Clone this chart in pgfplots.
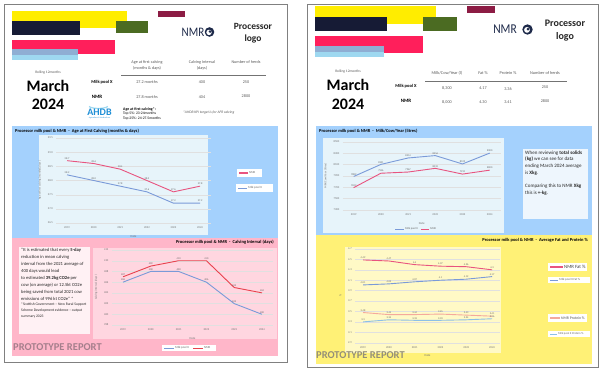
\documentclass[border=0pt]{standalone}
\usepackage{pgfplots}
\pgfplotsset{compat=1.18}
\usepackage{fontspec}
\setmainfont{Carlito}
\definecolor{cyel}{HTML}{FFED00}
\definecolor{cnavy}{HTML}{161B35}
\definecolor{cgreen}{HTML}{4B6B22}
\definecolor{cmaroon}{HTML}{8C1C44}
\definecolor{cred}{HTML}{FF1F5B}
\definecolor{cgblue}{HTML}{8FAED3}
\definecolor{clblue}{HTML}{9ED8F0}
\definecolor{pblue}{HTML}{A4D1FD}
\definecolor{plblue}{HTML}{E7F4FA}
\definecolor{ppink}{HTML}{FFB6C9}
\definecolor{plpink}{HTML}{FFD6E0}
\definecolor{tpink}{HTML}{FFF1F4}
\definecolor{tblue}{HTML}{EEF6FD}
\definecolor{pyel}{HTML}{FFF176}
\definecolor{plyel}{HTML}{FFF9C6}
\definecolor{nmrpink}{HTML}{E8547F}
\definecolor{poolblue}{HTML}{7A9AD8}
\definecolor{nmrred}{HTML}{E8424E}
\definecolor{nmrprot}{HTML}{F5A99C}
\definecolor{poolprot}{HTML}{8CC0E6}
\definecolor{logonavy}{HTML}{1E2A4A}
\definecolor{ahdb}{HTML}{1F8FD6}
\definecolor{protol}{HTML}{A57F8C}
\definecolor{protor}{HTML}{948F78}
\definecolor{hdr}{HTML}{595959}
\newcommand\fs[2]{\fontsize{#1}{#2}\selectfont}
\pgfplotsset{
  rep/.style={
    scale only axis, clip=false, anchor=south west,
    axis line style={draw=none}, major tick length=0pt,
    ymajorgrids, grid style={black!12, line width=0.3pt},
    xmin=-0.4, xmax=5.4,
    xtick={0,1,2,3,4,5}, xticklabels={2019,2020,2021,2022,2023,2024},
    tick label style={font=\fs{2.8}{3}, text=black!55},
    /pgf/number format/assume math mode=true,
    xlabel={Date}, xlabel style={font=\fs{3}{3}, text=black!55},
    ylabel style={font=\fs{2.8}{3}, text=black!55},
    every axis plot/.append style={line width=0.9pt, no markers},
    nodes near coords,
    every node near coord/.append style={font=\fs{2.6}{3}, text=black!60, inner sep=0.8pt},
  }
}
\begin{document}
\begin{tikzpicture}
\begin{scope}[x=1pt,y=-1pt]
\fill[white] (0,0) rectangle (602,369);
\useasboundingbox (0,0) rectangle (602,369);
% pages
\draw[black!50, line width=0.8pt, fill=white] (4,4) rectangle (287,362);
\draw[black!50, line width=0.8pt, fill=white] (307,4) rectangle (598,367);
% ---------- left header bars
\fill[cyel] (12,11) rectangle (127,28);
\fill[cnavy] (12,21) rectangle (80,35);
\fill[cgreen] (116,21) rectangle (148,33);
\fill[cmaroon] (158,11) rectangle (185,17);
\fill[cred] (12,40) rectangle (115,54);
\fill[cgblue] (12,49) rectangle (78,55);
\fill[clblue] (12,55) rectangle (78,60);
% ---------- right header bars
\fill[cyel] (315,6) rectangle (436,24);
\fill[cnavy] (315,17) rectangle (387,31);
\fill[cgreen] (423,17) rectangle (457,31);
\fill[cmaroon] (467,6) rectangle (495,13);
\fill[cred] (315,36) rectangle (423,53);
\fill[cgblue] (315,46) rectangle (384,52);
\fill[clblue] (315,52) rectangle (384,57);
% ---------- NMR logos
\node[font=\fs{13}{13}, text=logonavy, xscale=0.85] at (193,32) {NMR};
\fill[logonavy] (209.5,32) circle (4.8);
\fill[white] (209,32.4) circle (2.7);
\fill[logonavy] (210,31.6) circle (1.4);
\node[font=\fs{13.5}{13.5}, text=logonavy, xscale=0.85] at (505,29.5) {NMR};
\fill[logonavy] (527.5,29.5) circle (5.2);
\fill[white] (527,29.9) circle (2.9);
\fill[logonavy] (528,29.1) circle (1.5);
\node[font=\bfseries\fs{9.5}{12}, align=center, text=black!85] at (253,33) {Processor\\logo};
\node[font=\bfseries\fs{10}{13}, align=center, text=black!85] at (565,30.5) {Processor\\logo};
% ---------- left header text
\node[font=\fs{3.6}{4}, text=hdr] at (48,73) {Rolling 12months};
\node[font=\bfseries\fs{16}{16}] at (48,86) {March};
\node[font=\bfseries\fs{16}{16}] at (48,104) {2024};
\node[font=\bfseries\fs{4.5}{5}] at (102,82) {Milk pool X};
\node[font=\bfseries\fs{5}{5}] at (97,97) {NMR};
\node[font=\fs{4.2}{6}, text=hdr, align=center] at (147,65) {Age at first calving\\(months \& days)};
\node[font=\fs{4.2}{6}, text=hdr, align=center] at (202,65) {Calving Interval\\(days)};
\node[font=\fs{4.2}{6}, text=hdr] at (246,62) {Number of herds};
\draw[black!55, line width=0.8pt] (121,75) -- (266,75);
\node[font=\fs{4.2}{5}, text=hdr] at (147,82) {27.2 months};
\node[font=\fs{4.2}{5}, text=hdr] at (202,82) {400};
\node[font=\fs{4.2}{5}, text=hdr] at (246,82) {250};
\node[font=\fs{4.2}{5}, text=hdr] at (147,97) {27.8 months};
\node[font=\fs{4.2}{5}, text=hdr] at (202,97) {404};
\node[font=\fs{4.2}{5}, text=hdr] at (246,96.5) {2800};
\draw[clblue, line width=1.2pt] (89,106.5) arc (160:20:10 and 3);
\node[font=\bfseries\fs{10}{10}, text=ahdb] at (99.5,112) {AHDB};
\node[font=\fs{2}{2}, text=ahdb] at (99.5,117.5) {Agriculture \& Horticulture};
\node[font=\bfseries\fs{3.9}{4}, anchor=west, inner sep=0pt] at (123,109) {Age at first calving*:};
\node[font=\fs{3.7}{4}, anchor=west, inner sep=0pt] at (123,114) {Top 5\%: 23-24months};
\node[font=\fs{3.7}{4}, anchor=west, inner sep=0pt] at (123,119) {Top 25\%: 24-27.5months};
\node[font=\itshape\fs{3.6}{4}, anchor=west, inner sep=0pt, text=hdr] at (183,113) {*AHDB KPI target is for AFR calving};
% ---------- right header text
\node[font=\fs{3.6}{4}, text=hdr] at (348,72) {Rolling 12months};
\node[font=\bfseries\fs{16}{16}] at (348,85) {March};
\node[font=\bfseries\fs{16}{16}] at (348,104) {2024};
\node[font=\bfseries\fs{4.5}{5}] at (406,86) {Milk pool X};
\node[font=\bfseries\fs{5}{5}] at (406,100.5) {NMR};
\node[font=\fs{4.3}{5}, text=hdr] at (447,73) {Milk/Cow/Year (l)};
\node[font=\fs{4.3}{5}, text=hdr] at (483,73) {Fat \%};
\node[font=\fs{4.3}{5}, text=hdr] at (508,73) {Protein \%};
\node[font=\fs{4.3}{5}, text=hdr] at (545,73) {Number of herds};
\draw[black!55, line width=0.8pt] (425,81) -- (567,81);
\node[font=\fs{4.2}{5}, text=hdr] at (447,88) {8,300};
\node[font=\fs{4.2}{5}, text=hdr] at (483,88) {4.17};
\node[font=\fs{4.2}{5}, text=hdr] at (508,89) {3.36};
\node[font=\fs{4.2}{5}, text=hdr] at (545,87) {250};
\node[font=\fs{4.2}{5}, text=hdr] at (447,102) {8,000};
\node[font=\fs{4.2}{5}, text=hdr] at (483,102) {4.30};
\node[font=\fs{4.2}{5}, text=hdr] at (508,102) {3.41};
\node[font=\fs{4.2}{5}, text=hdr] at (545,101.5) {2800};
% ---------- panels
\fill[pblue] (12,126) rectangle (278,238);
\node[font=\bfseries\fs{4.5}{5}, anchor=west, inner sep=0pt] at (15,131) {Processor milk pool \& NMR\ \ -\ \ Age at First Calving (months \& days)};
\fill[plblue] (39,135) rectangle (208,235);
\fill[ppink] (12,238) rectangle (278,356);
\node[font=\bfseries\fs{4.5}{5}, anchor=east, inner sep=0pt] at (274,242) {Processor milk pool \& NMR\ \ -\ \ Calving Interval (days)};
\fill[tpink] (19,247) rectangle (90,334);
\fill[plpink] (93,248) rectangle (277,339);
\node[font=\bfseries\fs{10.5}{11}, anchor=west, inner sep=0pt, text=protol] at (13,347) {PROTOTYPE REPORT};
\node[anchor=north west, align=left, font=\fs{4.6}{7}, inner sep=0pt, text=black!85] at (21,247.8) {``It is estimated that every \textbf{5-day}\\reduction in mean calving\\interval from the 2021 average of\\400 days would lead\\to estimated \textbf{39.2kg CO2e} per\\cow (on average) or 12.5kt CO2e\\being saved from total 2021 cow\\emissions of 996 kt CO2e'' *};
\node[anchor=north west, align=left, font=\fs{3.7}{6}, inner sep=0pt, text=black!85] at (21,303) {*Scottish Government -- New Rural Support\\Scheme Development evidence -- output\\summary 2023};
\fill[pblue] (316,126) rectangle (592,235);
\node[font=\bfseries\fs{4.5}{5}, anchor=west, inner sep=0pt] at (319,131) {Processor milk pool \& NMR\ \ -\ \ Milk/Cow/Year (litres)};
\fill[plblue] (323,138) rectangle (504,233);
\fill[tblue] (523,149) rectangle (588,219);
\node[anchor=north west, align=left, font=\fs{5}{6.7}, inner sep=0pt, text=black!85] at (525,150.5) {When reviewing \textbf{total solids}\\\textbf{(kg)} we can see for data\\ending March 2024 average\\is \textbf{Xkg}.\\[6.7pt]Comparing this to NMR \textbf{Xkg}\\this is \textbf{+-kg}.};
\fill[pyel] (316,235) rectangle (592,364);
\node[font=\bfseries\fs{4.5}{5}, anchor=east, inner sep=0pt] at (588,240) {Processor milk pool \& NMR\ \ -\ \ Average Fat and Protein \%};
\fill[plyel] (345,247) rectangle (501,353);
\node[font=\bfseries\fs{10.5}{11}, anchor=west, inner sep=0pt, text=protor] at (316,355) {PROTOTYPE REPORT};
\end{scope}

% ---------- Age at first calving
\begin{axis}[rep, at={(56.4pt,-223pt)}, width=154.3pt, height=85pt,
  ymin=26.5, ymax=29.5, ytick={26.5,27,27.5,28,28.5,29,29.5},
  yticklabel={\pgfmathprintnumber[fixed,fixed zerofill,precision=1,assume math mode=true]{\tick}},
  nodes near coords={\pgfmathprintnumber[fixed,fixed zerofill,precision=1,assume math mode=true]{\pgfplotspointmeta}},
  ylabel={Age at first calving (months\&days)}]
\addplot[color=nmrpink] coordinates {(0,28.7)(1,28.6)(2,28.4)(3,28.0)(4,27.6)(5,27.8)};
\addplot[color=poolblue] coordinates {(0,28.2)(1,28.0)(2,27.8)(3,27.6)(4,27.2)(5,27.2)};
\end{axis}

% ---------- Calving interval
\begin{axis}[rep, at={(111.9pt,-325pt)}, width=161.2pt, height=75pt,
  ymin=398, ymax=412, ytick={398,400,402,404,406,408,410,412},
  ylabel={Calving interval (days)}]
\addplot[color=poolblue] coordinates {(0,406)(1,408)(2,408)(3,406)(4,402)(5,400)};
\addplot[color=nmrred] coordinates {(0,407)(1,409)(2,410)(3,410)(4,405)(5,404)};
\end{axis}

% ---------- Milk/Cow/Year
\begin{axis}[rep, at={(342.8pt,-210pt)}, width=157.8pt, height=68.3pt,
  ymin=7300, ymax=8500, ytick={7300,7500,7700,7900,8100,8300,8500},
  /pgf/number format/1000 sep={},
  ylabel={Milk/Cow/Year (litres)}]
\addplot[color=poolblue] coordinates {(0,7889)(1,8101)(2,8214)(3,8256)(4,8109)(5,8300)};
\addplot[color=nmrpink] coordinates {(0,7693)(1,7946)(2,7967)(3,8032)(4,7931)(5,8000)};
\end{axis}

% ---------- Fat and protein
\begin{axis}[rep, at={(355.3pt,-342.7pt)}, width=144.5pt, height=93.7pt,
  xmin=-0.3, xmax=5.3,
  ymin=2.9, ymax=4.7, ytick={2.9,3.1,3.3,3.5,3.7,3.9,4.1,4.3,4.5,4.7},
  yticklabel={\pgfmathprintnumber[fixed,fixed zerofill,precision=1,assume math mode=true]{\tick}},
  ylabel={\%}]
\addplot[color=nmrpink] coordinates {(0,4.49)(1,4.47)(2,4.40)(3,4.37)(4,4.36)(5,4.30)};
\addplot[color=poolblue] coordinates {(0,4.01)(1,4.03)(2,4.07)(3,4.10)(4,4.12)(5,4.17)};
\addplot[color=nmrprot] coordinates {(0,3.48)(1,3.44)(2,3.44)(3,3.45)(4,3.43)(5,3.41)};
\addplot[color=poolprot] coordinates {(0,3.30)(1,3.34)(2,3.33)(3,3.33)(4,3.34)(5,3.36)};
\end{axis}

% ---------- legends
\begin{scope}[x=1pt,y=-1pt]
\fill[white] (237,169) rectangle (262,177);
\draw[nmrpink, line width=1.4pt] (239,173) -- (248,173);
\node[font=\fs{3}{3}, text=black!60, anchor=west, inner sep=0.5pt] at (248.5,173) {NMR};
\fill[white] (236,184) rectangle (273,192);
\draw[poolblue, line width=1pt] (238,188) -- (247,188);
\node[font=\fs{3}{3}, text=black!60, anchor=west, inner sep=0.5pt] at (247.5,188) {Milk pool X};
\fill[white] (162,345) rectangle (216,351);
\draw[poolblue, line width=1pt] (164,348) -- (174,348);
\node[font=\fs{3}{3}, text=black!60, anchor=west, inner sep=0.5pt] at (174.5,348) {Milk pool X};
\draw[nmrred, line width=1pt] (193,348) -- (203,348);
\node[font=\fs{3}{3}, text=black!60, anchor=west, inner sep=0.5pt] at (203.5,348) {NMR};
\draw[poolblue, line width=0.8pt] (395,229) -- (404,229);
\node[font=\fs{2.8}{3}, text=black!60, anchor=west, inner sep=0.5pt] at (404.5,229) {Milk pool X};
\draw[nmrpink, line width=0.8pt] (421,229) -- (429,229);
\node[font=\fs{2.8}{3}, text=black!60, anchor=west, inner sep=0.5pt] at (429.5,229) {NMR};
\fill[white] (548,263) rectangle (587,271);
\draw[nmrpink, line width=1.8pt] (550,267) -- (563,267);
\node[font=\fs{4.8}{5}, text=black!75, anchor=west, inner sep=0.5pt] at (563.5,267) {NMR Fat \%};
\fill[white] (548,277) rectangle (590,283);
\draw[poolblue, line width=0.9pt] (550,280) -- (558,280);
\node[font=\fs{3}{3}, text=black!60, anchor=west, inner sep=0.5pt] at (558.5,280) {Milk pool X Fat \%};
\fill[white] (548,314) rectangle (587,322);
\draw[nmrprot, line width=1.2pt] (550,318) -- (560,318);
\node[font=\fs{3.8}{4}, text=black!65, anchor=west, inner sep=0.5pt] at (560.5,318) {NMR Protein \%};
\fill[white] (548,331) rectangle (590,337);
\draw[poolprot, line width=0.9pt] (550,334) -- (557,334);
\node[font=\fs{2.9}{3}, text=black!60, anchor=west, inner sep=0.5pt] at (557.5,334) {Milk pool X Protein \%};
\end{scope}
\end{tikzpicture}
\end{document}
